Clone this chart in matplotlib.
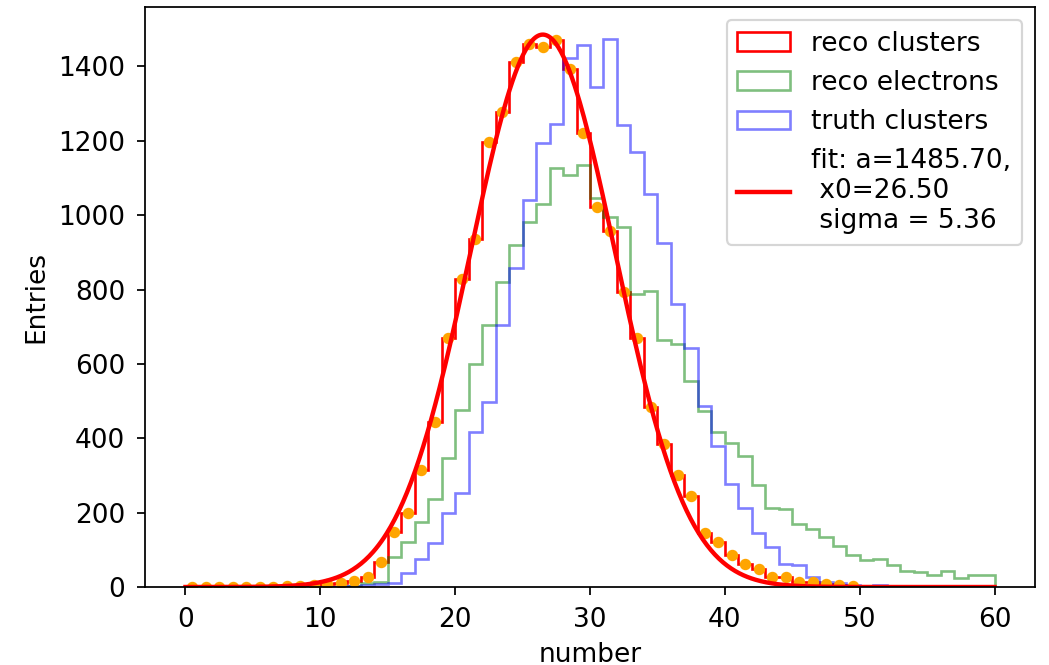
import numpy as np
import matplotlib
matplotlib.use("Agg")
import matplotlib.pyplot as plt

# bin edges 0..60, width 1
bin_edges = np.arange(0, 61, 1)

reco_clusters = [0, 0, 0, 0, 1, 1, 1, 2, 2, 5,
                 8, 10, 15, 28, 68, 148, 199, 314, 445, 671,
                 828, 935, 1198, 1278, 1413, 1460, 1452, 1472, 1392, 1222,
                 1022, 958, 793, 669, 484, 384, 301, 245, 145, 120,
                 86, 62, 48, 26, 26, 14, 13, 9, 6, 4,
                 2, 1, 1, 0, 0, 0, 0, 0, 0, 0]

reco_electrons = [0, 0, 0, 0, 0, 0, 0, 0, 0, 0,
                  0, 0, 3, 10, 14, 80, 120, 176, 237, 347,
                  476, 599, 704, 820, 920, 981, 1030, 1126, 1109, 1136,
                  1046, 994, 967, 788, 795, 665, 653, 555, 474, 416,
                  388, 351, 275, 213, 210, 170, 156, 134, 111, 86,
                  73, 75, 59, 43, 41, 32, 44, 25, 32, 32]

truth_clusters = [0, 0, 0, 0, 0, 0, 0, 0, 0, 0,
                  0, 0, 2, 5, 7, 10, 37, 76, 118, 200,
                  252, 416, 498, 704, 859, 1041, 1195, 1244, 1423, 1457,
                  1344, 1475, 1243, 1169, 1058, 924, 760, 642, 486, 380,
                  277, 213, 144, 107, 62, 59, 26, 14, 11, 6,
                  3, 6, 0, 0, 0, 0, 0, 0, 0, 0]

# fitted points (bin centres of the fit histogram, 0..50)
n_fit_points = 50

fit_a = 1485.70
fit_x0 = 26.50
fit_sigma = 5.36

plt.rcParams['font.size'] = 12
plt.rcParams['xtick.major.pad'] = 5.5
plt.rcParams['ytick.major.pad'] = 5.5

dpi = 158
fig = plt.figure(figsize=(1049 / dpi, 665 / dpi), dpi=dpi)
ax = fig.add_axes([145 / 1049, 1 - 587 / 665, (1035 - 145) / 1049, (587 - 7) / 665])

centers = 0.5 * (bin_edges[:-1] + bin_edges[1:])

ax.hist(centers, bins=bin_edges, weights=reco_clusters, histtype='step',
        color='red', linewidth=1.2, label='reco clusters')
ax.hist(centers, bins=bin_edges, weights=reco_electrons, histtype='step',
        color='green', alpha=0.5, linewidth=1.2, label='reco electrons')
ax.hist(centers, bins=bin_edges, weights=truth_clusters, histtype='step',
        color='blue', alpha=0.5, linewidth=1.2, label='truth clusters')

ax.plot(centers[:n_fit_points], reco_clusters[:n_fit_points], 'o',
        color='orange', markersize=4.2)

xf = np.linspace(0, 60, 600)
yf = fit_a * np.exp(-(xf - fit_x0) ** 2 / (2 * fit_sigma ** 2))
ax.plot(xf, yf, color='red', linewidth=2,
        label='fit: a=%.2f,\n x0=%.2f\n sigma = %.2f' % (fit_a, fit_x0, fit_sigma))

ax.set_xlabel('number')
ax.set_ylabel('Entries')
ax.legend(loc='upper right')

fig.savefig('out.png', dpi=dpi)
